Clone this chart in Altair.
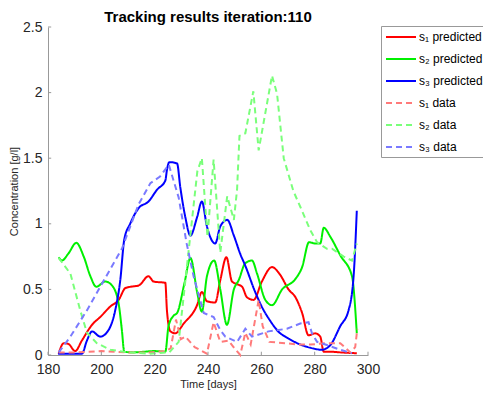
import altair as alt
import pandas as pd

FONT = "Liberation Sans"

series_names = ["s₁ predicted", "s₂ predicted", "s₃ predicted", "s₁ data", "s₂ data", "s₃ data"]
series_colors = ["#ff0000", "#00f000", "#0000ff", "#ff7a7a", "#7aff7a", "#7a7aff"]

# s1 predicted (red solid)
s1_pred_t = [184, 185.9, 187.6, 190.2, 192.7, 196.5, 199.6, 203.4, 206.5, 209, 210.9, 214, 217.7, 219.6,
             224, 224.6, 225.9, 227.7, 230.9, 235.9, 237.7, 239.6, 242.7, 244.6, 246.9, 249, 250.9,
             252.8, 254.6, 257.1, 260.2, 264, 267.1, 270.2, 272.8, 275.3, 277.7, 280.2, 282.1, 283.4,
             285.9, 289.6, 295.8]
s1_pred_v = [0.01, 0.09, 0.085, 0.03, 0.11, 0.23, 0.29, 0.37, 0.42, 0.51, 0.52, 0.53, 0.6, 0.56,
             0.55, 0.34, 0.18, 0.165, 0.24, 0.38, 0.48, 0.41, 0.4, 0.57, 0.745, 0.56, 0.54,
             0.52, 0.44, 0.42, 0.56, 0.67, 0.61, 0.5, 0.44, 0.32, 0.15, 0.165, 0.14, 0.025,
             0.025, 0.02, 0.013]

# s2 predicted (green solid)
s2_pred_t = [184, 185.2, 187.7, 190.6, 193.4, 195.9, 198.1, 201.5, 204, 206.5, 207.7, 208.6, 212, 216,
             220, 224, 225.2, 227.1, 228.4, 231.2, 233.4, 236, 237.7, 239.6, 242.3, 244.6, 247.1,
             249.7, 251.5, 254, 256.5, 258.4, 261.5, 264, 267.8, 272.8, 275.3, 277.9, 280.2, 282.1,
             283.4, 285.9, 289.6, 294, 295.8]
s2_pred_v = [0.745, 0.72, 0.775, 0.855, 0.75, 0.6, 0.52, 0.56, 0.53, 0.39, 0.19, 0.025, 0.02, 0.025,
             0.03, 0.025, 0.22, 0.3, 0.32, 0.55, 0.74, 0.47, 0.33, 0.6, 0.72, 0.5, 0.23,
             0.5, 0.57, 0.7, 0.72, 0.62, 0.42, 0.38, 0.5, 0.58, 0.67, 0.86, 0.85, 0.85,
             0.97, 0.9, 0.76, 0.6, 0.165]

# s3 predicted (blue solid)
s3_pred_t = [183.8, 192.7, 194.6, 196.5, 199.6, 202.7, 205.2, 207.1, 208.6, 210.8, 214, 217.7, 220.9,
             224, 224.6, 225.5, 228.4, 229.6, 231.5, 233.4, 235.9, 237.7, 239.6, 242.7, 244.6, 247.2,
             249.7, 252.1, 254, 257.5, 260.9, 262.7, 267.1, 269, 274.6, 278.4, 282.7, 285.9, 289.6,
             292.7, 294.6, 295.8]
s3_pred_v = [0.01, 0.01, 0.11, 0.18, 0.14, 0.19, 0.34, 0.57, 0.88, 1.0, 1.12, 1.17, 1.26,
             1.33, 1.41, 1.47, 1.46, 1.28, 1.05, 0.91, 1.05, 1.17, 0.98, 0.85, 0.98, 1.03,
             0.91, 0.77, 0.68, 0.49, 0.34, 0.28, 0.165, 0.14, 0.08, 0.055, 0.04, 0.076, 0.22,
             0.34, 0.6, 1.1]

# s1 data (light red dashed)
s1_data_t = [184, 190, 200, 210, 218, 224, 226, 228, 229.8, 231.5, 235, 239.6, 242.1, 244.6, 247.7,
             250, 252.1, 254, 256, 259, 260.5, 263, 269, 274, 278.4, 284.6, 289.6, 293.4, 295.2, 296]
s1_data_v = [0.02, 0.02, 0.03, 0.02, 0.02, 0.03, 0.05, 0.27, 0.12, 0.14, 0.06, 0.01, 0.25, 0.1, 0.11,
             0.05, 0.0, 0.17, 0.08, 0.42, 0.22, 0.1, 0.09, 0.08, 0.08, 0.09, 0.09, 0.02, 0.06, 0.2]

# s2 data (light green dashed)
s2_data_t = [184, 188.4, 192.1, 194.6, 198.3, 203.4, 210, 218, 225.5, 229, 236, 237.7, 239.8, 242.1,
             244.6, 247.2, 249.7, 250.9, 251.8, 254, 257, 259, 264, 265.9, 268.4, 272, 274.6, 278.4,
             280.9, 284.6, 286.5, 290.9, 294, 295.8]
s2_data_v = [0.74, 0.62, 0.34, 0.17, 0.09, 0.04, 0.02, 0.01, 0.02, 0.1, 1.4, 1.5, 0.9, 1.49,
             0.78, 1.21, 1.03, 1.26, 1.67, 1.69, 2.01, 1.56, 2.13, 1.99, 1.5, 1.25, 1.13, 0.95,
             0.86, 0.81, 0.81, 0.75, 0.72, 0.85]

# s3 data (light blue dashed)
s3_data_t = [184, 188.4, 194.6, 199.6, 207.7, 214, 218.4, 222, 225.3, 229, 232, 234.6, 238.4, 242.1,
             244.6, 246.5, 250.9, 254, 256.5, 262.7, 269.6, 274.6, 277.7, 279, 280.9, 284.6, 289.6, 294]
s3_data_v = [0.02, 0.14, 0.34, 0.52, 0.81, 1.15, 1.31, 1.36, 1.45, 1.2, 0.85, 0.6, 0.32, 0.29,
             0.19, 0.14, 0.1, 0.2, 0.14, 0.18, 0.2, 0.24, 0.25, 0.165, 0.1, 0.076, 0.04, 0.013]

x_ticks = [180, 200, 220, 240, 260, 280, 300]
y_ticks = [0, 0.5, 1, 1.5, 2, 2.5]


def frame(name, ts, vs):
    return pd.DataFrame({"t": ts, "v": vs, "series": name, "order": range(len(ts))})


pred_df = pd.concat([
    frame(series_names[0], s1_pred_t, s1_pred_v),
    frame(series_names[1], s2_pred_t, s2_pred_v),
    frame(series_names[2], s3_pred_t, s3_pred_v),
])
data_df = pd.concat([
    frame(series_names[3], s1_data_t, s1_data_v),
    frame(series_names[4], s2_data_t, s2_data_v),
    frame(series_names[5], s3_data_t, s3_data_v),
])

x_scale = alt.Scale(domain=[180, 300], nice=False, zero=False)
y_scale = alt.Scale(domain=[0, 2.5], nice=False)

legend = alt.Legend(
    title=None, orient="none", legendX=333, legendY=-1,
    strokeColor="#999999", fillColor="white", padding=4,
    symbolType="M-1,0H4", symbolSize=144, rowPadding=9,
    labelFontSize=12, labelFont=FONT, labelColor="black", labelOffset=20,
)

color = alt.Color("series:N", scale=alt.Scale(domain=series_names, range=series_colors), legend=legend)
dash = alt.StrokeDash("series:N", scale=alt.Scale(domain=series_names,
                                                   range=[[1, 0], [1, 0], [1, 0], [6, 4], [6, 4], [6, 4]]),
                      legend=legend)
width_enc = alt.StrokeWidth("series:N", scale=alt.Scale(domain=series_names, range=[2, 2, 2, 1, 1, 1]),
                            legend=legend)

x_enc = alt.X("t:Q", scale=x_scale,
              axis=alt.Axis(values=x_ticks, title="Time [days]", format="d"))
y_enc = alt.Y("v:Q", scale=y_scale,
              axis=alt.Axis(values=y_ticks, title="Concentration [g/l]", format=".1~f"))

pred = alt.Chart(pred_df).mark_line(interpolate="monotone").encode(
    x=x_enc, y=y_enc, color=color, strokeDash=dash, strokeWidth=width_enc, order="order:Q",
    detail="series:N",
)
data = alt.Chart(data_df).mark_line(interpolate="linear").encode(
    x=x_enc, y=y_enc, color=color, strokeDash=dash, strokeWidth=width_enc, order="order:Q",
    detail="series:N",
)

xt_df = pd.DataFrame({"t": x_ticks, "v0": 0.0, "v1": 0.025})
yt_df = pd.DataFrame({"v": y_ticks, "t0": 180.0, "t1": 181.2})
xt = alt.Chart(xt_df).mark_rule(color="#999999", strokeWidth=1).encode(
    x=alt.X("t:Q", scale=x_scale), y=alt.Y("v0:Q", scale=y_scale), y2="v1:Q")
yt = alt.Chart(yt_df).mark_rule(color="#999999", strokeWidth=1).encode(
    y=alt.Y("v:Q", scale=y_scale), x=alt.X("t0:Q", scale=x_scale), x2="t1:Q")

chart = alt.layer(pred, data, xt, yt).properties(
    width=320, height=328,
    title=alt.Title("Tracking results iteration:110", fontSize=15, font=FONT, fontWeight="bold",
                    color="black", offset=-5, anchor="middle"),
    autosize=alt.AutoSizeParams(type="none"),
    padding={"left": 40, "top": 19, "right": 115, "bottom": 35},
).configure_view(stroke="transparent").configure_axis(
    grid=False, ticks=False, domainColor="#999999", domainWidth=1, labelFlush=False,
    labelFont=FONT, labelFontSize=14, labelColor="#262626", labelPadding=6,
    titleFont=FONT, titleFontSize=11, titleFontWeight="normal", titleColor="#262626",
).configure_axisX(labelPadding=7, titlePadding=2).configure_axisY(titlePadding=3)

chart.save("out.html", embed_options={"renderer": "svg", "actions": False})
